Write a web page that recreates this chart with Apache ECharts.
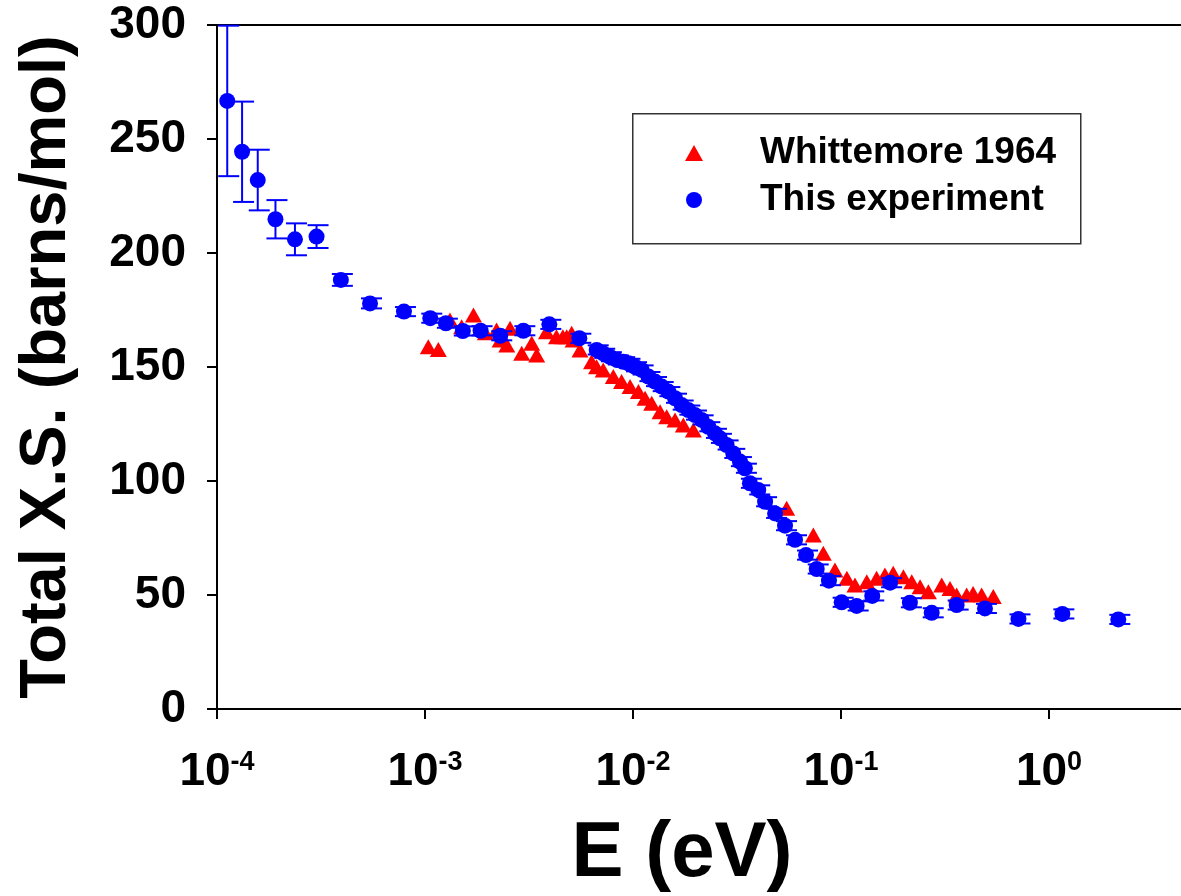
<!DOCTYPE html>
<html>
<head>
<meta charset="utf-8">
<script src="https://cdn.jsdelivr.net/npm/echarts@6/dist/echarts.min.js"></script>
<style>html,body{margin:0;padding:0;background:#fff}#c{width:1181px;height:896px}</style>
</head>
<body>
<div id="c"></div>
<script>
// Whittemore 1964 (red triangles)
const whitE = [1.037e-3,1.159e-3,1.318e-3,1.500e-3,1.710e-3,1.95e-3,2.208e-3,2.296e-3,2.472e-3,2.564e-3,2.917e-3,3.258e-3,3.443e-3,3.837e-3,4.285e-3,4.60e-3,4.797e-3,5.07e-3,5.15e-3,5.56e-3,6.32e-3,6.68e-3,7.19e-3,8.04e-3,8.81e-3,9.68e-3,1.062e-2,1.143e-2,1.230e-2,1.349e-2,1.452e-2,1.592e-2,1.746e-2,1.95e-2,5.48e-2,7.36e-2,8.22e-2,9.35e-2,0.1067,0.1167,0.1330,0.1483,0.1626,0.1782,0.1995,0.2188,0.2399,0.2630,0.3048,0.3342,0.3597,0.4018,0.4315,0.4742,0.5395];
const whitXS = [158.9,157.7,170.6,167.7,172.8,165.0,166.2,161.8,159.6,167.0,156.0,160.4,155.3,165.5,163.3,163.3,163.3,164.8,161.8,157.5,152.3,150.1,148.7,145.8,143.6,141.4,139.2,136.3,134.1,130.4,128.2,126.8,124.6,122.4,88.0,76.3,68.3,61.0,57.3,54.4,55.8,57.3,58.8,59.5,58.0,55.8,53.6,51.4,54.4,52.9,50.0,50.0,50.7,50.0,49.3];

// This experiment (blue circles with error bars)
const expE = [1.12e-4,1.32e-4,1.57e-4,1.91e-4,2.37e-4,3.01e-4,3.94e-4,5.44e-4,7.92e-4,1.06e-3,1.26e-3,1.52e-3,1.85e-3,2.30e-3,2.97e-3,3.96e-3,5.52e-3,6.69e-3,7.19e-3,7.74e-3,8.36e-3,8.97e-3,9.51e-3,1.023e-2,1.10e-2,1.186e-2,1.276e-2,1.374e-2,1.479e-2,1.592e-2,1.714e-2,1.845e-2,1.986e-2,2.138e-2,2.301e-2,2.477e-2,2.618e-2,2.818e-2,3.034e-2,3.266e-2,3.451e-2,3.648e-2,4.0e-2,4.315e-2,4.82e-2,5.38e-2,6.01e-2,6.79e-2,7.64e-2,8.75e-2,0.1007,0.1189,0.1413,0.1722,0.2143,0.2729,0.3597,0.492,0.713,1.159,2.153];
const expXS = [266.7,244.4,232.0,214.8,206.0,207.2,188.2,177.9,174.3,171.4,169.2,165.8,165.9,163.7,165.9,168.7,162.6,157.5,156.0,154.5,153.1,152.3,151.6,150.1,148.7,145.8,143.6,141.4,139.2,136.3,133.3,131.1,128.9,126.8,123.8,120.9,118.7,115.8,112.1,108.5,105.6,99.0,96.1,90.9,85.8,80.4,74.2,67.5,61.4,56.3,46.8,45.2,49.6,55.4,46.6,42.2,45.6,44.1,39.5,41.7,39.3];
const expErr = [33,22,13.3,8.4,7,5,2.6,2.2,2,2,2,2,2,2,2,2,2,2,2,2,2,2,2,2,2,2,2,2,2,2,2,2,2,2,2,2,2,2,2,2,2,2,2,2,2,2,2,2,2,2,2,2,2,2,2,2,2,2,2,2,2];

const yTicks = [0,50,100,150,200,250,300];
const names = ['Whittemore 1964','This experiment'];

const FONT = "'Liberation Sans', Arial, Helvetica, sans-serif";
const X_MIN = 1e-4, X_MAX = 4.31;

const chart = echarts.init(document.getElementById('c'), null, {renderer:'canvas'});

const whitData = whitE.map((e,i)=>[e, whitXS[i]]);
const expData = expE.map((e,i)=>[e, expXS[i]]);
const errData = expE.map((e,i)=>[e, expXS[i]-expErr[i], expXS[i]+expErr[i]]);

function xLabel(v){
  const lg = Math.log10(v);
  const ex = Math.round(lg);
  if (Math.abs(lg-ex) > 1e-6) return '';
  return '{b|10}{s|' + ex + '}';
}

const option = {
  backgroundColor:'#fff',
  animation:false,
  grid:{left:217, right:0, top:25, bottom:187, containLabel:false, outerBoundsMode:'none'},
  xAxis:[{
    type:'log', logBase:10, min:X_MIN, max:X_MAX, position:'bottom',
    name:'E (eV)', nameLocation:'middle', nameGap:106,
    nameTextStyle:{fontFamily:FONT, fontWeight:'bold', fontSize:78, color:'#000', padding:[0,34,0,0]},
    axisLine:{show:true, lineStyle:{color:'#000', width:2}},
    axisTick:{show:true, inside:false, length:10, lineStyle:{color:'#000', width:2}},
    minorTick:{show:false},
    splitLine:{show:false},
    axisLabel:{show:true, margin:40, showMaxLabel:false, formatter:xLabel,
      rich:{
        b:{fontFamily:FONT, fontWeight:'bold', fontSize:46, color:'#000'},
        s:{fontFamily:FONT, fontWeight:'bold', fontSize:27, color:'#000', verticalAlign:'top'}
      }}
  },{
    type:'log', logBase:10, min:X_MIN, max:X_MAX, position:'top',
    axisLine:{show:true, lineStyle:{color:'#000', width:2}},
    axisTick:{show:false}, axisLabel:{show:false}, splitLine:{show:false}
  }],
  yAxis:{
    type:'value', min:yTicks[0], max:yTicks[yTicks.length-1], interval:50,
    name:'Total X.S. (barns/mol)', nameLocation:'middle', nameGap:137, nameRotate:90,
    nameTextStyle:{fontFamily:FONT, fontWeight:'bold', fontSize:65, color:'#000'},
    axisLine:{show:true, lineStyle:{color:'#000', width:2}},
    axisTick:{show:true, inside:false, length:10, lineStyle:{color:'#000', width:2}},
    splitLine:{show:false},
    axisLabel:{margin:31, fontFamily:FONT, fontWeight:'bold', fontSize:46, color:'#000'}
  },
  legend:{
    data:[{name:names[0], icon:'triangle'}, {name:names[1], icon:'circle'}],
    orient:'vertical', left:685, top:133,
    itemWidth:18, itemHeight:16, itemGap:7, padding:0,
    textStyle:{fontFamily:FONT, fontWeight:'bold', fontSize:37, color:'#000', lineHeight:40, padding:[0,0,0,52]}
  },
  graphic:[{
    type:'rect', left:632, top:113, z:-1,
    shape:{width:448, height:130},
    style:{fill:'#fff', stroke:'#333', lineWidth:1.5}
  }],
  series:[
    {
      name:names[0], type:'scatter', data:whitData,
      symbol:'triangle', symbolSize:[17,15],
      itemStyle:{color:'#FF0000', opacity:1}, z:2
    },
    {
      name:names[1], type:'custom', data:errData, z:3,
      encode:{x:0, y:[1,2]},
      itemStyle:{color:'#0000FF'},
      renderItem:function(params, api){
        const x = api.value(0), lo = api.value(1), hi = api.value(2);
        const pH = api.coord([x, hi]);
        const pL = api.coord([x, lo]);
        const st = {stroke:'#0000FF', lineWidth:2};
        return {type:'group', children:[
          {type:'line', shape:{x1:pH[0], y1:pH[1], x2:pL[0], y2:pL[1]}, style:st},
          {type:'line', shape:{x1:pH[0]-9, y1:pH[1], x2:pH[0]+12, y2:pH[1]}, style:st},
          {type:'line', shape:{x1:pL[0]-9, y1:pL[1], x2:pL[0]+12, y2:pL[1]}, style:st}
        ]};
      }
    },
    {
      name:names[1], type:'scatter', data:expData,
      symbol:'circle', symbolSize:16,
      itemStyle:{color:'#0000FF', opacity:1}, z:4
    }
  ]
};
chart.setOption(option);
</script>
</body>
</html>
